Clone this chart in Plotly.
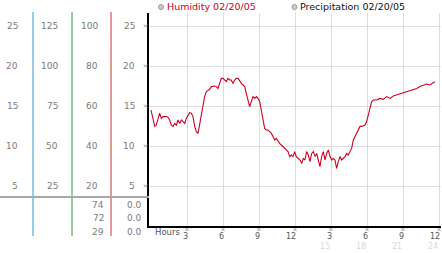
import plotly.graph_objects as go

# ---------------- data ----------------
hours = [
    0.0, 0.03, 0.17, 0.31, 0.44, 0.58, 0.72, 0.86, 1.0,
    1.28, 1.42, 1.56, 1.69, 1.83, 1.97, 2.11, 2.25, 2.39, 2.53, 2.67, 2.81, 2.94, 3.08,
    3.22, 3.36, 3.5, 3.64, 3.78, 3.92, 4.06, 4.19, 4.33, 4.47, 4.61, 4.75, 4.89, 5.03,
    5.31, 5.44, 5.58, 5.72, 5.86, 6.0, 6.14, 6.28, 6.42, 6.56, 6.69, 6.83, 6.97, 7.11,
    7.25, 7.39, 7.53, 7.67, 7.81, 7.94, 8.08, 8.22, 8.36, 8.5, 8.64, 8.78, 8.92, 9.06,
    9.19, 9.33, 9.47, 9.61, 9.75, 9.89, 10.03, 10.17, 10.31, 10.44, 10.58, 10.72, 10.86,
    11.0, 11.14, 11.28, 11.42, 11.56, 11.69, 11.83, 11.97, 12.11,
    12.42, 12.56, 12.69, 12.83, 12.97, 13.11, 13.25, 13.39, 13.53, 13.67, 13.81, 13.94,
    14.08, 14.22, 14.36, 14.5, 14.64, 14.78, 14.92, 15.06, 15.19, 15.33, 15.47, 15.61,
    15.75, 15.89, 16.03, 16.17, 16.31, 16.44, 16.58, 16.72, 16.86, 17.0, 17.14, 17.28,
    17.42, 17.56, 17.69, 17.83, 17.97, 18.11, 18.25, 18.39, 18.53,
    18.81, 19.08, 19.36, 19.64, 19.92, 20.19, 20.47, 20.75, 21.03, 21.31, 21.58, 21.86,
    22.14, 22.42, 22.69, 22.97, 23.25, 23.39, 23.53, 23.67,
]
humidity = [
    58, 57.2, 52.2, 49.8, 50.4, 53.8, 56.4, 53.8, 54.7,
    54.7, 54.3, 53, 50.4, 49.8, 51.3, 50.4, 53, 51.3, 53, 52.2, 51.3, 53.8, 55.5,
    56.7, 56.4, 54.7, 49.8, 47.2, 46.3, 51.3, 56.4, 61.3, 64.7, 67.2, 67.7, 68.3, 69.7,
    70, 69.7, 68.8, 71.3, 73.8, 73.8, 73, 72.2, 73.8, 73, 73, 71.3, 73, 73.8,
    73.8, 72.2, 71.3, 70.5, 69.7, 66.3, 63, 59.7, 62.2, 64.7, 63.8, 64.7, 63.8, 62.2,
    58, 52.2, 48.8, 48, 48, 47.2, 46.3, 44.7, 43, 43.8, 42.2, 41.3, 40.5,
    39.7, 38.8, 38, 37.2, 34.7, 35.5, 34.7, 37.2, 34.7,
    33, 31.3, 33.8, 33, 37.2, 35.5, 32.2, 36.3, 37.2, 34.7, 36.3, 33,
    29.7, 34.7, 37.2, 33, 36.3, 38, 34.7, 33, 33.8, 33, 28.8, 32.2,
    34.7, 33, 33.8, 34.7, 36.3, 35.5, 37.2, 38.8, 43, 44.7, 47.2, 48.8,
    49.8, 49.8, 50, 50.5, 52.2, 55.5, 59.7, 62.2, 63,
    63, 63.8, 63.3, 64.7, 63.8, 65, 65.5, 66.3, 66.7, 67.2, 67.7, 68.3,
    68.8, 69.7, 70.5, 71, 70.5, 71.3, 71.7, 72,
]

humidity_ticks = [20, 40, 60, 80, 100]
scale_a_labels = ["5", "10", "15", "20", "25"]
scale_b_labels = ["25", "50", "75", "100", "125"]
scale_c_labels = ["20", "40", "60", "80", "100"]
scale_d_labels = ["5", "10", "15", "20", "25"]
humidity_stats = ["74", "72", "29"]
precip_stats = ["0.0", "0.0", "0.0"]
hour_ticks = [3, 6, 9, 12, 15, 18, 21, 24]
hour_labels = ["3", "6", "9", "12", "3", "6", "9", "12"]
hour_labels_24 = ["", "", "", "", "15", "18", "21", "24"]
legend_labels = ["Humidity 02/20/05", "Precipitation 02/20/05"]

# ---------------- layout helpers ----------------
W, H = 442, 253
FONT = "DejaVu Sans"
GRAY = "#7a7a7a"
RED = "#cc0022"
GLYPH = "#a0a0a0"
X0_PX, PX_PER_HOUR = 151, 12      # pixel scale of the hour axis
Y0_PX, PX_PER_PCT = 226, 2        # pixel scale of the humidity axis


def px_x(x):
    return x / W


def px_y(y):
    return 1 - y / H


def tick_mark(cx, cy, r=1.6):
    """small 'x' glyph drawn as a paper-space path (pixel centre cx, cy)"""
    p = "M {a} {b} L {c} {d} M {a} {d} L {c} {b}".format(
        a=px_x(cx - r), c=px_x(cx + r), b=px_y(cy - r), d=px_y(cy + r))
    return dict(type="path", xref="paper", yref="paper", path=p,
                line=dict(color=GLYPH, width=1))


fig = go.Figure()
fig.add_trace(go.Scatter(
    x=hours, y=humidity, mode="lines",
    line=dict(color=RED, width=1.1),
    hoverinfo="skip", showlegend=False,
))

annotations = []
shapes = []

# tick marks beside the axes
for v in humidity_ticks:
    shapes.append(tick_mark(145.5, Y0_PX - PX_PER_PCT * v))
for t in hour_ticks:
    shapes.append(tick_mark(X0_PX + PX_PER_HOUR * t, 229.5))

# left scale columns
cols = [
    (scale_a_labels, 20),
    (scale_b_labels, 60),
    (scale_c_labels, 100),
    (scale_d_labels, 137),
]
for labels, right in cols:
    for val, lab in zip(humidity_ticks, labels):
        annotations.append(dict(
            xref="paper", yref="y", x=px_x(right), y=val, text=lab,
            xanchor="right", yanchor="middle", showarrow=False,
            font=dict(family=FONT, size=9, color=GRAY),
        ))

# stats rows
stat_rows = [204.5, 218, 232]
for ypx, a, b in zip(stat_rows, humidity_stats, precip_stats):
    annotations.append(dict(
        xref="paper", yref="paper", x=px_x(106), y=px_y(ypx), text=a,
        xanchor="right", yanchor="middle", showarrow=False,
        font=dict(family=FONT, size=9, color=GRAY),
    ))
    annotations.append(dict(
        xref="paper", yref="paper", x=px_x(144), y=px_y(ypx), text=b,
        xanchor="right", yanchor="middle", showarrow=False,
        font=dict(family=FONT, size=9, color=GRAY),
    ))

# x tick labels
for t, lab, lab24 in zip(hour_ticks, hour_labels, hour_labels_24):
    annotations.append(dict(
        xref="x", yref="paper", x=t, y=px_y(236.5), text=lab,
        xanchor="right", yanchor="middle", xshift=2.5, showarrow=False,
        font=dict(family=FONT, size=8, color="#555555"),
    ))
    if lab24:
        annotations.append(dict(
            xref="x", yref="paper", x=t, y=px_y(246.5), text=lab24,
            xanchor="right", yanchor="middle", xshift=1, showarrow=False,
            font=dict(family=FONT, size=8, color="#d8d8d8"),
        ))
annotations.append(dict(
    xref="paper", yref="paper", x=px_x(153), y=px_y(232), text="Hours",
    xanchor="left", yanchor="middle", showarrow=False,
    font=dict(family=FONT, size=8.5, color="#555555"),
))

# legend
legend_pos = [(161, RED), (294.5, "#111111")]
for (cx, col), lab in zip(legend_pos, legend_labels):
    shapes.append(dict(
        type="circle", xref="paper", yref="paper",
        x0=px_x(cx - 2.5), x1=px_x(cx + 2.5), y0=px_y(9.5), y1=px_y(4.5),
        line=dict(color="#999999", width=1), fillcolor="#cccccc",
    ))
    annotations.append(dict(
        xref="paper", yref="paper", x=px_x(cx + 3.5), y=px_y(7), text=lab,
        xanchor="left", yanchor="middle", showarrow=False,
        font=dict(family=FONT, size=9.5, color=col),
    ))

# left panel lines
for xx, col in [(33, "#2f9bd0"), (72, "#2ea02e"), (111, "#c83232")]:
    shapes.append(dict(
        type="line", xref="paper", yref="paper",
        x0=px_x(xx), x1=px_x(xx), y0=px_y(12), y1=px_y(236),
        line=dict(color=col, width=1),
    ))
shapes.append(dict(
    type="line", xref="paper", yref="paper",
    x0=0, x1=px_x(149), y0=px_y(197), y1=px_y(197),
    line=dict(color="#a8a8a8", width=2),
))

fig.update_layout(
    width=W, height=H,
    margin=dict(l=0, r=0, t=0, b=0),
    paper_bgcolor="white", plot_bgcolor="white",
    showlegend=False,
    xaxis=dict(
        domain=[px_x(149), px_x(441)],
        range=[(149 - X0_PX) / PX_PER_HOUR, (441 - X0_PX) / PX_PER_HOUR],
        tickvals=hour_ticks, showticklabels=False, ticks="",
        showgrid=True, gridcolor="#dddddd", gridwidth=1,
        zeroline=False, showline=True, linecolor="black", linewidth=2,
        fixedrange=True,
    ),
    yaxis=dict(
        domain=[px_y(226), px_y(13)],
        range=[0, (Y0_PX - 13) / PX_PER_PCT],
        tickvals=humidity_ticks, showticklabels=False, ticks="",
        showgrid=True, gridcolor="#dddddd", gridwidth=1,
        zeroline=False, showline=True, linecolor="black", linewidth=2,
        fixedrange=True,
    ),
    annotations=annotations,
    shapes=shapes,
)

fig.write_html("out.html", config={"displayModeBar": False})
